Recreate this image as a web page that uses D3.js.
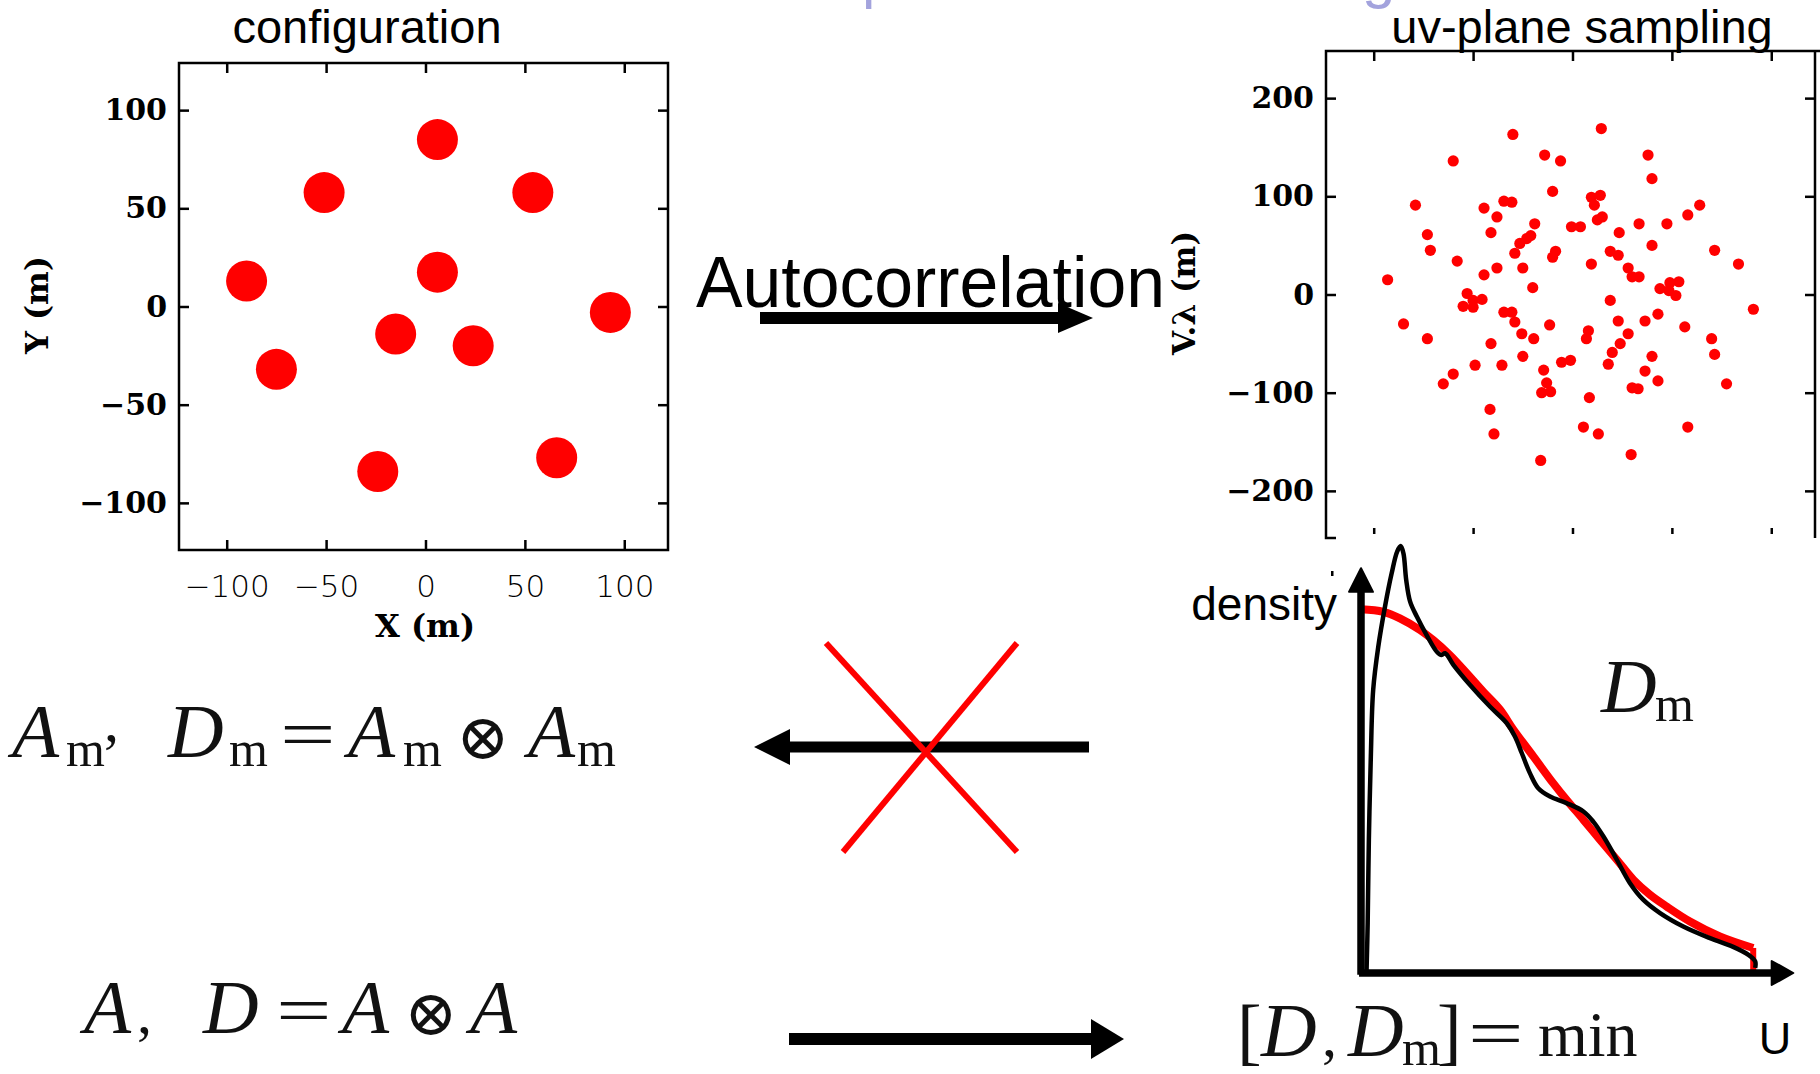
<!DOCTYPE html>
<html>
<head>
<meta charset="utf-8">
<script src="https://cdn.jsdelivr.net/npm/d3@7"></script>
<style>
  html, body { margin: 0; padding: 0; background: #fff; }
  svg { display: block; }
</style>
</head>
<body>
<div id="chart"></div>
<script>
// antenna positions (m)
const antX = [6, -51, 54, -90, 6, 93, -15, 24, -75, -24, 66];
const antY = [85, 58, 58, 13, 17.5, -3, -14, -20, -32, -84, -77];
const cfgTicks = [-100, -50, 0, 50, 100];

// uv-plane samples (V.lambda, m)
const uvU = [-60, 29, -120, -28, -12, 76, 80, -20, -158, -89, -69, -61, -76, 19, 28, 22, 25, 30, 116, 128,
  -38, -42, -46, -53, -58, -82, -146, -143, -1, 8, 47, 67, 95, 80, 143, 167, -17, -20, 38, 46,
  -116, -76, -89, -50, 19, 56, 60, 67, -186, -40, 88, 98, 107, 97, 104, -106, -100, -91, -110, -100,
  38, 182, -170, -146, -69, -61, -58, -23, 46, 73, 86, 113, 56, -51, -39, 16, 14, -82, 140, 143,
  48, 40, 36, -50, -98, -71, -120, -130, -11, -2, -29, -26, -31, -22, 80, 73, 86, 60, 66, 155,
  17, -83, -79, 11, 26, 116, -32, 59];
const uvV = [163, 169, 136, 142, 136, 142, 118, 105, 91, 88, 95, 94, 79, 99, 101, 91, 76, 79, 81, 91,
  72, 60, 57, 52, 42, 63, 61, 45, 69, 69, 63, 72, 72, 50, 45, 31, 44, 38, 44, 40,
  34, 27, 20, 27, 31, 27, 18, 18, 15, 7, 6, 12, 13, 4, -1, 1, -6, -5, -12, -13,
  -6, -15, -30, -45, -18, -18, -28, -31, -27, -27, -20, -33, -40, -40, -45, -37, -45, -50, -45, -61,
  -50, -59, -71, -63, -72, -72, -81, -91, -69, -67, -77, -90, -100, -99, -63, -78, -88, -95, -96, -91,
  -105, -117, -142, -135, -142, -135, -169, -163];
const uvTicks = [-200, -100, 0, 100, 200];

// model density profile D_m along U (arbitrary units)
const modelU = [0, 5.7, 9.9, 15, 18.4, 22.6, 26.9, 31.1, 35.4, 38.8, 43.9, 48.9, 52.3, 56.6, 60.8, 65.1,
  69.3, 73.5, 77.8, 83.7, 91.3, 99.8];
const modelD = [100.2, 99.5, 97.7, 94.5, 91.7, 87.6, 82.6, 77.5, 72.5, 67, 59.6, 52.3, 47.7, 42.2, 36.7, 31.2,
  25.7, 21.6, 18.3, 14.2, 10.1, 6.9];

// actual configuration density profile D
const measU = [1.4, 1.7, 2, 2.5, 3.1, 4.4, 6.1, 7.8, 9.2, 10.1, 10.8, 11.5, 12.5, 14.2, 16.7, 19.3, 20.5, 21.4,
  23.5, 27.7, 32.8, 37.1, 39.2, 40.9, 43, 45.1, 48.1, 52.3, 56.6, 59.1, 61.7, 65.1, 68.4, 71.8, 76.1, 82,
  88.8, 94.7, 98.6, 100.3, 100.3];
const measD = [0, 13.8, 36.7, 59.6, 78, 89.9, 100.9, 110.1, 116.1, 117.6, 115.6, 108.3, 102.3, 98.2, 93.1, 88.5, 87.6, 88.1,
  84.9, 79.4, 73.4, 68.8, 65.1, 60.6, 55, 50.9, 48.6, 46.8, 44.5, 41.7, 37.6, 31.2, 24.8, 20.2, 16.5, 12.8,
  9.6, 7.2, 5, 3.2, 1.4];

const W = 1820, H = 1074;
const RED = '#ff0000';
const SANS = 'Liberation Sans, Arial, sans-serif';
const SERIF = 'Liberation Serif, DejaVu Serif, serif';

const svg = d3.select('#chart').append('svg')
  .attr('width', W).attr('height', H);
svg.append('rect').attr('width', W).attr('height', H).attr('fill', '#fff');

// faint remains of the slide title, cut off at the top
svg.append('text').attr('x', 862).attr('y', -3).attr('font-family', SANS).attr('font-size', 60)
  .attr('fill', '#a3a3dd').text('p');
svg.append('text').attr('x', 1362).attr('y', -3).attr('font-family', SANS).attr('font-size', 60)
  .attr('fill', '#a3a3dd').text('g');

// framed plot with inward ticks on all four sides
function framedAxes(x, y, xt, yt, opts) {
  const g = svg.append('g');
  const [x0, x1] = x.range();
  const [y0, y1] = y.range();
  const style = a => a.call(s => s.select('.domain').remove())
    .call(s => s.selectAll('.tick line').attr('stroke', '#000').attr('stroke-width', 2.5));

  g.append('g').attr('transform', `translate(${x0},0)`)
    .call(d3.axisLeft(y).tickValues(yt).tickSize(-10).tickPadding(12))
    .call(style)
    .attr('font-family', 'DejaVu Serif').attr('font-weight', 'bold').attr('font-size', 30);
  g.append('g').attr('transform', `translate(${x1},0)`)
    .call(d3.axisRight(y).tickValues(yt).tickSize(-10).tickFormat(''))
    .call(style);
  g.append('g').attr('transform', `translate(0,${y1})`)
    .call(d3.axisTop(x).tickValues(xt).tickSize(-10).tickFormat(''))
    .call(style);
  const bottom = d3.axisBottom(x).tickValues(xt).tickSize(-10).tickPadding(25);
  if (!opts.xLabels) bottom.tickFormat('');
  g.append('g').attr('transform', `translate(0,${y0})`)
    .call(bottom)
    .call(style)
    .attr('font-family', 'DejaVu Sans').attr('font-weight', 200).attr('font-size', 31);
  g.selectAll('.tick text').attr('fill', '#000');

  g.append('path')
    .attr('d', opts.frame)
    .attr('fill', 'none').attr('stroke', '#000').attr('stroke-width', 2.5);
  return g;
}

// ---------- configuration ----------
const cx = d3.scaleLinear().domain([-124, 122]).range([179, 668]);
const cy = d3.scaleLinear().domain([-124, 124]).range([550, 63]);

svg.append('text').attr('x', 367).attr('y', 43).attr('text-anchor', 'middle')
  .attr('font-family', SANS).attr('font-size', 47).text('configuration');

framedAxes(cx, cy, cfgTicks, cfgTicks, {
  xLabels: true,
  frame: `M179,63H668V550H179Z`
});

svg.append('g').selectAll('circle')
  .data(antX.map((v, i) => [v, antY[i]]))
  .join('circle')
  .attr('cx', d => cx(d[0])).attr('cy', d => cy(d[1]))
  .attr('r', 20.5).attr('fill', RED);

svg.append('text').attr('x', 425).attr('y', 637).attr('text-anchor', 'middle')
  .attr('font-family', 'DejaVu Serif').attr('font-weight', 'bold').attr('font-size', 32).text('X (m)');
svg.append('text').attr('transform', 'translate(37,305) rotate(-90)').attr('dy', '0.35em')
  .attr('text-anchor', 'middle')
  .attr('font-family', 'DejaVu Serif').attr('font-weight', 'bold').attr('font-size', 32).text('Y (m)');

// ---------- uv-plane sampling ----------
const ux = d3.scaleLinear().domain([-248, 244]).range([1326, 1815]);
const uy = d3.scaleLinear().domain([-248, 248]).range([538, 51]);

framedAxes(ux, uy, uvTicks, uvTicks, {
  xLabels: false,
  frame: `M1336,538H1326V51H1820M1815,51V538`
});

svg.append('g').selectAll('circle')
  .data(uvU.map((v, i) => [v, uvV[i]]))
  .join('circle')
  .attr('cx', d => ux(d[0])).attr('cy', d => uy(d[1]))
  .attr('r', 5.6).attr('fill', RED);

svg.append('text').attr('x', 1582).attr('y', 43).attr('text-anchor', 'middle')
  .attr('font-family', SANS).attr('font-size', 47).text('uv-plane sampling');

svg.append('text').attr('transform', 'translate(1184,293) rotate(-90)').attr('dy', '0.35em')
  .attr('text-anchor', 'middle')
  .attr('font-family', 'DejaVu Serif').attr('font-weight', 'bold').attr('font-size', 31).text('V.λ (m)');

// ---------- density profiles ----------
// white backing of the inset (covers the bottom edge of the uv frame)
svg.append('rect').attr('x', 1336).attr('y', 534).attr('width', 474).attr('height', 14).attr('fill', '#fff');

const dx = d3.scaleLinear().domain([0, 100]).range([1361, 1754]);
const dy = d3.scaleLinear().domain([0, 100]).range([973, 610]);

const line = d3.line().x(d => dx(d[0])).y(d => dy(d[1])).curve(d3.curveCatmullRom.alpha(0.5));

svg.append('path')
  .datum(modelU.map((u, i) => [u, modelD[i]]))
  .attr('d', line).attr('fill', 'none').attr('stroke', RED).attr('stroke-width', 8);
svg.append('path')
  .datum([[modelU[modelU.length - 1], modelD[modelD.length - 1]], [modelU[modelU.length - 1], 0]])
  .attr('d', d3.line().x(d => dx(d[0])).y(d => dy(d[1])))
  .attr('fill', 'none').attr('stroke', RED).attr('stroke-width', 6);

// axes with arrow heads
const ax = svg.append('g');
ax.append('line').attr('x1', dx(0)).attr('x2', dx(0)).attr('y1', dy(-0.5)).attr('y2', dy(106))
  .attr('stroke', '#000').attr('stroke-width', 7.5);
ax.append('line').attr('x1', dx(-0.5)).attr('x2', dx(105)).attr('y1', dy(0)).attr('y2', dy(0))
  .attr('stroke', '#000').attr('stroke-width', 7.5);
ax.append('path')
  .attr('d', `M${dx(0)},${dy(111.5)}L${dx(0) + 12},${dy(105)}L${dx(0) - 12},${dy(105)}Z`)
  .attr('fill', '#000').attr('stroke', '#000').attr('stroke-width', 2).attr('stroke-linejoin', 'round');
ax.append('path')
  .attr('d', `M${dx(110)},${dy(0)}L${dx(104.5)},${dy(0) - 12}L${dx(104.5)},${dy(0) + 12}Z`)
  .attr('fill', '#000').attr('stroke', '#000').attr('stroke-width', 2).attr('stroke-linejoin', 'round');
// small stray tick next to the axis head
ax.append('rect').attr('x', 1331).attr('y', 571).attr('width', 2.5).attr('height', 5).attr('fill', '#000');

svg.append('path')
  .datum(measU.map((u, i) => [u, measD[i]]))
  .attr('d', line).attr('fill', 'none').attr('stroke', '#000').attr('stroke-width', 4.5)
  .attr('stroke-linejoin', 'round');

svg.append('text').attr('x', 1337).attr('y', 620).attr('text-anchor', 'end')
  .attr('font-family', SANS).attr('font-size', 46).text('density');
svg.append('text').attr('x', 1775).attr('y', 1054).attr('text-anchor', 'middle')
  .attr('font-family', SANS).attr('font-size', 45).text('U');

// ---------- formulas ----------
const fstyle = {
  cal: { size: 77, italic: true, dy: 0 },
  sub: { size: 50, dy: 9 },
  eq: { size: 68, dy: 0, sx: 1.45 },
  ot: { size: 64, dy: 2, family: 'DejaVu Serif' },
  br: { size: 74, dy: 0 },
  pu: { size: 60, dy: 0 },
  hi: { size: 60, dy: -16 },
  min: { size: 64, dy: 0 }
};
function formula(items, baseline) {
  const g = svg.append('g').attr('fill', '#111');
  items.forEach(([s, x, k]) => {
    const st = fstyle[k];
    g.append('text')
      .attr('transform', `translate(${x},${baseline + st.dy}) scale(${st.sx || 1},1)`)
      .attr('font-family', st.family || SERIF).attr('font-size', st.size)
      .attr('font-style', st.italic ? 'italic' : 'normal')
      .text(s);
  });
}
formula([['A', 12, 'cal'], ['m', 66, 'sub'], [',', 104, 'hi'], ['D', 168, 'cal'], ['m', 229, 'sub'],
  ['=', 280, 'eq'], ['A', 348, 'cal'], ['m', 403, 'sub'], ['⊗', 456, 'ot'], ['A', 528, 'cal'], ['m', 577, 'sub']], 757);
formula([['A', 84, 'cal'], [',', 137, 'pu'], ['D', 203, 'cal'], ['=', 276, 'eq'], ['A', 342, 'cal'],
  ['⊗', 404, 'ot'], ['A', 470, 'cal']], 1033);
formula([['[', 1237, 'br'], ['D', 1261, 'cal'], [',', 1322, 'pu'], ['D', 1348, 'cal'], ['m', 1402, 'sub'],
  [']', 1437, 'br'], ['=', 1468, 'eq'], ['min', 1538, 'min']], 1056);
formula([['D', 1601, 'cal'], ['m', 1655, 'sub']], 712);

// ---------- arrows ----------
function arrow(x0, x1, y, thick, headLen, headHalf) {
  const dir = Math.sign(x1 - x0);
  const base = x1 - dir * headLen;
  svg.append('rect').attr('x', Math.min(x0, base)).attr('y', y - thick / 2)
    .attr('width', Math.abs(base - x0)).attr('height', thick).attr('fill', '#000');
  svg.append('path').attr('d', `M${x1},${y}L${base},${y - headHalf}L${base},${y + headHalf}Z`).attr('fill', '#000');
}
svg.append('text').attr('x', 696).attr('y', 307).attr('font-family', SANS).attr('font-size', 72)
  .attr('textLength', 469).attr('lengthAdjust', 'spacingAndGlyphs').text('Autocorrelation');
arrow(760, 1093, 318, 12, 35, 15);
arrow(1089, 754, 747, 11, 36, 18);
arrow(789, 1124, 1039, 12, 33, 20);

svg.append('line').attr('x1', 826).attr('y1', 643).attr('x2', 1017).attr('y2', 852)
  .attr('stroke', RED).attr('stroke-width', 6);
svg.append('line').attr('x1', 1017).attr('y1', 643).attr('x2', 843).attr('y2', 852)
  .attr('stroke', RED).attr('stroke-width', 6);
</script>
</body>
</html>
